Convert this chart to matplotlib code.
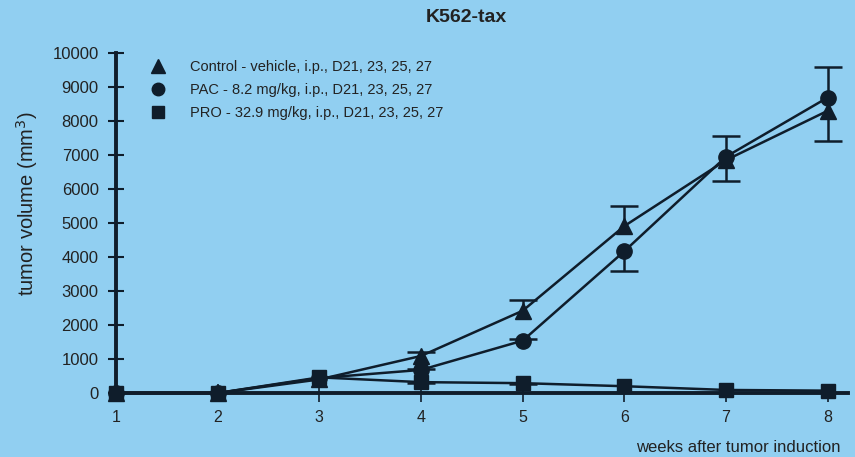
import numpy as np
import matplotlib.pyplot as plt
from matplotlib.lines import Line2D

plt.rcParams['font.family'] = ['Liberation Sans', 'DejaVu Sans']

# data (week -> tumor volume, mm3)
weeks = np.array([1, 2, 3, 4, 5, 6, 7, 8])
control = np.array([0, 0, 400, 1090, 2420, 4910, 6850, 8300])
pac = np.array([0, 0, 440, 680, 1540, 4170, 6950, 8690])
pro = np.array([0, 0, 460, 320, 290, 200, 90, 70])

# one sided error bars, only the drawn side (0 = no bar)
control_err_up = np.array([0, 0, 0, 120, 330, 600, 700, 0])
control_err_low = np.array([0, 0, 0, 0, 0, 0, 0, 900])
pac_err_up = np.array([0, 0, 0, 30, 50, 0, 0, 900])
pac_err_low = np.array([0, 0, 0, 0, 0, 590, 700, 0])
pro_err_low = np.array([0, 0, 0, 30, 20, 0, 0, 0])

labels = ['Control - vehicle, i.p., D21, 23, 25, 27',
          'PAC - 8.2 mg/kg, i.p., D21, 23, 25, 27',
          'PRO - 32.9 mg/kg, i.p., D21, 23, 25, 27']

bg = '#91cff1'
ink = '#0f1d2b'
txt = '#222222'

fig = plt.figure(figsize=(8.55, 4.57), dpi=100, facecolor=bg)
ax = fig.add_axes([0.1357, 0.140, 0.8561, 0.744])
ax.set_facecolor(bg)


def one_sided(x, y, err, sign):
    m = err > 0
    ends = y[m] + sign * err[m]
    ax.vlines(x[m], y[m], ends, color=ink, lw=1.8, zorder=3)
    ax.plot(x[m], ends, ls='none', marker='_', markersize=20, mew=1.8,
            color=ink, zorder=3)


ax.plot(weeks, control, color=ink, marker='^', markersize=11, lw=1.8,
        clip_on=False, zorder=3)
ax.plot(weeks, pac, color=ink, marker='o', markersize=11, lw=1.8,
        clip_on=False, zorder=3)
ax.plot(weeks, pro, color=ink, marker='s', markersize=10, lw=1.8,
        clip_on=False, zorder=3)

one_sided(weeks, control, control_err_up, 1)
one_sided(weeks, control, control_err_low, -1)
one_sided(weeks, pac, pac_err_up, 1)
one_sided(weeks, pac, pac_err_low, -1)
one_sided(weeks, pro, pro_err_low, -1)

ax.set_xlim(1, 8.2)
ax.set_ylim(0, 10000)
ax.set_xticks(weeks)
ax.set_yticks(np.arange(0, 10001, 1000))
for s in ['top', 'right']:
    ax.spines[s].set_visible(False)
for s in ['left', 'bottom']:
    ax.spines[s].set_color(ink)
    ax.spines[s].set_linewidth(2.8)
ax.spines['bottom'].set_zorder(4)
ax.tick_params(axis='y', direction='inout', length=11, width=1.5, color=ink,
               labelsize=12, labelcolor=txt, pad=7)
ax.tick_params(axis='x', direction='inout', length=13, width=1.2, color=ink,
               labelsize=11.5, labelcolor=txt, pad=5.5)

fig.text(0.032, 0.554, 'tumor volume (mm$^3$)', rotation=90, ha='center',
         va='center', fontsize=14.5, color=txt)
fig.text(0.983, 0.02, 'weeks after tumor induction', ha='right', va='center',
         fontsize=12, color=txt)
fig.text(0.546, 0.962, 'K562-tax', ha='center', va='center', fontsize=14,
         fontweight='bold', color=txt)

handles = [Line2D([], [], color=ink, marker=m, ls='none', markersize=ms)
           for m, ms in [('^', 10), ('o', 9), ('s', 8)]]
ax.legend(handles, labels, loc='upper left', bbox_to_anchor=(0.1605, 0.881),
          bbox_transform=fig.transFigure, frameon=False, fontsize=10.5,
          handletextpad=1.2, labelspacing=0.62, labelcolor=txt,
          borderaxespad=0)

fig.savefig('out.png', dpi=100, facecolor=bg)
